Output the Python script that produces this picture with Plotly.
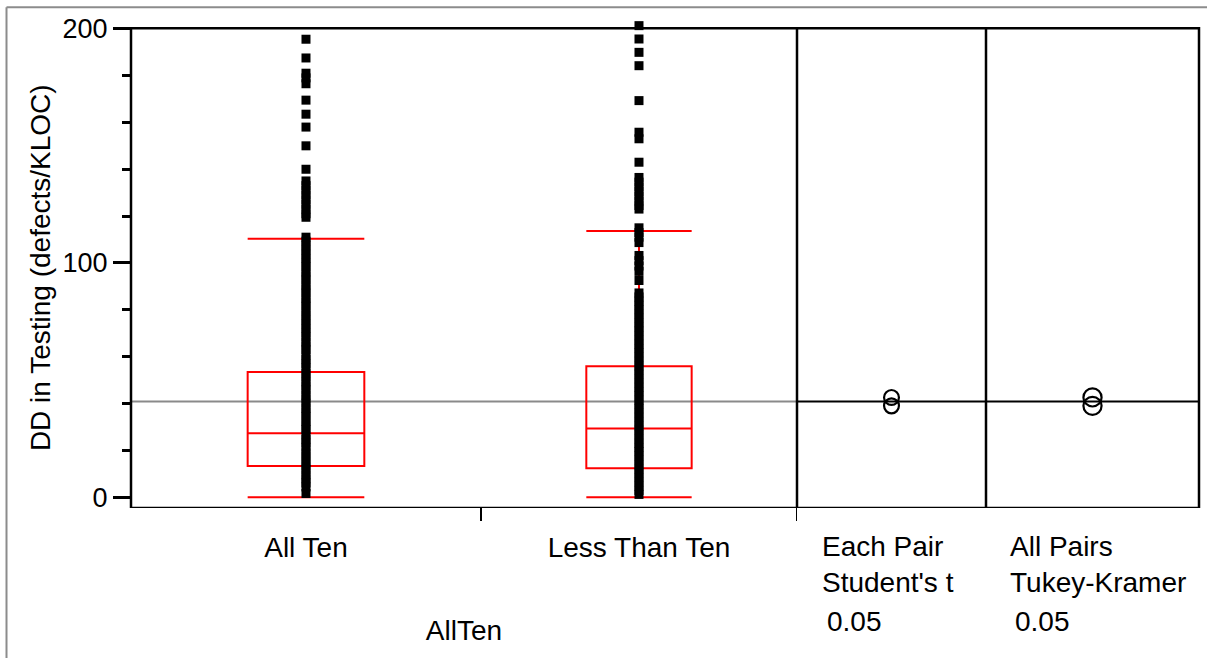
import plotly.graph_objects as go

# ---- data -------------------------------------------------------------
groups = ["All Ten", "Less Than Ten"]
group_share = [0.5255, 0.4745]          # share of observations per group (column widths)

whisker_low = [0.0, 0.0]
q1 = [13.3, 12.4]
median = [27.3, 29.3]
q3 = [53.4, 55.9]
whisker_high = [110.3, 113.6]

grand_mean = 40.9
group_means = [39.0, 42.6]
circle_radius_student = [3.6, 3.6]
circle_radius_tukey = [4.3, 4.3]

dd_all_ten = [
    1.6, 4.4, 6.1, 7.9, 9.6, 11.8, 13.5, 15.2, 17.4, 19.0, 21.3, 23.1, 24.8,
    26.7, 28.9, 30.6, 32.4, 34.5, 36.2, 38.0, 40.1, 41.9, 43.6, 45.8, 47.5,
    49.3, 51.4, 53.0, 55.2, 57.1, 58.8, 60.7, 62.9, 64.5, 66.3, 68.4, 70.2,
    72.0, 73.9, 75.7, 77.6, 79.4, 81.5, 83.2, 85.0, 87.1, 88.8, 90.6, 92.7,
    94.4, 96.2, 98.3, 100.0, 101.9, 103.7, 105.6, 107.4, 109.3, 111.0,
    119.5, 121.0, 123.0, 125.0, 127.0, 129.0, 131.0, 133.0, 135.0,
    140.0, 150.0, 158.0, 163.5, 169.5, 176.5, 179.0, 181.0, 187.5, 195.5,
]
dd_less_than_ten = [
    1.2, 2.9, 4.7, 6.6, 8.4, 10.3, 12.1, 13.9, 15.8, 17.6, 19.5, 21.2, 23.0,
    24.9, 26.7, 28.6, 30.4, 32.2, 34.1, 35.9, 37.8, 39.6, 41.4, 43.3, 45.1,
    46.9, 48.8, 50.6, 52.5, 54.3, 56.1, 58.0, 59.8, 61.7, 63.5, 65.3, 67.2,
    69.0, 70.9, 72.7, 74.5, 76.4, 78.2, 80.1, 81.9, 83.7, 85.5, 87.2,
    92.5, 96.4, 98.7, 101.0, 103.2, 108.7, 111.0, 113.0, 115.0,
    123.0, 124.5, 126.5, 128.5, 130.5, 132.5, 134.5, 136.5,
    143.0, 153.0, 155.8, 169.3, 184.2, 189.9, 195.6, 201.3,
]
group_values = [dd_all_ten, dd_less_than_ten]

# ---- geometry ---------------------------------------------------------
W, H = 1207, 658
ML, MR, MB = 131, 8, 150
plot_w = W - ML - MR
frame_y = [-4.6, 200.2]                 # visible frame of the value axis
y_range = [-4.6, 202.0]                 # a little headroom so edge points stay drawn
px_per_unit = 2.344
plot_h = (y_range[1] - y_range[0]) * px_per_unit
MT = H - MB - plot_h

main_end = 666 / plot_w
student_end = 855 / plot_w

FONT = "Liberation Sans, Arial, sans-serif"
FS = 28

# column centres and boundaries from group shares
bounds = [0.0]
for s in group_share:
    bounds.append(bounds[-1] + s)
centres = [(bounds[i] + bounds[i + 1]) / 2 for i in range(len(groups))]

fig = go.Figure()

# quantile boxes with whisker caps
for i in range(len(groups)):
    fig.add_trace(go.Box(
        x=[centres[i]], q1=[q1[i]], median=[median[i]], q3=[q3[i]],
        lowerfence=[whisker_low[i]], upperfence=[whisker_high[i]],
        width=group_share[i] / 3, whiskerwidth=1,
        line=dict(color="#ff0000", width=2), fillcolor="rgba(0,0,0,0)",
        boxpoints=False, xaxis="x", yaxis="y", showlegend=False,
    ))

# raw observations
for i in range(len(groups)):
    fig.add_trace(go.Scatter(
        x=[centres[i]] * len(group_values[i]), y=group_values[i],
        mode="markers", cliponaxis=False,
        marker=dict(symbol="square", size=9, color="black"),
        xaxis="x", yaxis="y", showlegend=False,
    ))

# comparison circles
for axis, radii in (("x2", circle_radius_student), ("x3", circle_radius_tukey)):
    for m, r in zip(group_means, radii):
        fig.add_trace(go.Scatter(
            x=[0.5], y=[m], mode="markers", xaxis=axis, yaxis="y",
            marker=dict(symbol="circle-open", size=2 * r * px_per_unit - 2,
                        color="black", line=dict(width=2.2, color="black")),
            showlegend=False,
        ))

shapes = []
# grand mean reference lines
shapes.append(dict(type="line", xref="x", yref="y", x0=0, x1=1,
                   y0=grand_mean, y1=grand_mean, layer="below",
                   line=dict(color="#8a8a8a", width=2)))
for ax in ("x2", "x3"):
    shapes.append(dict(type="line", xref=f"{ax} domain", yref="y", x0=0, x1=1,
                       y0=grand_mean, y1=grand_mean,
                       line=dict(color="black", width=2)))
# frame and panel separators
shapes.append(dict(type="rect", xref="paper", yref="y", x0=0, x1=1,
                   y0=frame_y[0], y1=frame_y[1],
                   line=dict(color="black", width=2.5)))
for xd in (main_end, student_end):
    shapes.append(dict(type="line", xref="paper", yref="y", x0=xd, x1=xd,
                       y0=frame_y[0], y1=frame_y[1],
                       line=dict(color="black", width=2.5)))
# group boundary ticks under the axis
for b in bounds[1:]:
    shapes.append(dict(type="line", xref="x", yref="paper", x0=b, x1=b,
                       y0=0, y1=-13 / plot_h, line=dict(color="black", width=2)))
# outer gray border (left and top)
gx = (6.5 - ML) / plot_w
gy = 1 + (MT - 7) / plot_h
shapes.append(dict(type="line", xref="paper", yref="paper", x0=gx, x1=gx,
                   y0=-MB / plot_h, y1=gy, line=dict(color="#8c8c8c", width=2)))
shapes.append(dict(type="line", xref="paper", yref="paper", x0=gx, x1=(W - ML) / plot_w,
                   y0=gy, y1=gy, line=dict(color="#8c8c8c", width=2)))

annotations = [
    dict(text="DD in Testing (defects/KLOC)", xref="paper", yref="y",
         x=0, y=(frame_y[0] + frame_y[1]) / 2, xshift=-(ML - 40), xanchor="center",
         yanchor="middle", textangle=-90, showarrow=False,
         font=dict(family=FONT, size=FS, color="black")),
]
panel_text = [("x2", ["Each Pair", "Student's t", "0.05"], 23),
              ("x3", ["All Pairs", "Tukey-Kramer", "0.05"], 22)]
for ax, lines, dx in panel_text:
    for k, (t, yc) in enumerate(zip(lines, (546, 582, 621))):
        annotations.append(dict(
            text=t, xref=f"{ax} domain", yref="paper", x=0, y=0,
            xanchor="left", yanchor="middle", xshift=dx + (5 if k == 2 else 0),
            yshift=-(yc - (H - MB)), showarrow=False,
            font=dict(family=FONT, size=FS, color="black")))

fig.update_layout(
    width=W, height=H, autosize=False,
    margin=dict(l=ML, r=MR, t=MT, b=MB, pad=0),
    paper_bgcolor="white", plot_bgcolor="white",
    font=dict(family=FONT, size=FS, color="black"),
    boxmode="overlay",
    xaxis=dict(domain=[0, main_end], range=[0, 1], anchor="y",
               tickmode="array", tickvals=centres, ticktext=groups,
               ticks="", showgrid=False, zeroline=False, showline=False,
               ticklabelstandoff=20,
               title=dict(text="AllTen", standoff=58,
                          font=dict(family=FONT, size=FS))),
    xaxis2=dict(domain=[main_end, student_end], range=[0, 1], anchor="y",
                showticklabels=False, ticks="", showgrid=False, zeroline=False),
    xaxis3=dict(domain=[student_end, 1], range=[0, 1], anchor="y",
                showticklabels=False, ticks="", showgrid=False, zeroline=False),
    yaxis=dict(range=y_range, anchor="x", tickmode="linear", tick0=0, dtick=100,
               ticks="outside", ticklen=17, tickwidth=2.5, tickcolor="black",
               tickfont=dict(family=FONT, size=27),
               minor=dict(dtick=20, tick0=0, ticks="outside", ticklen=8,
                          tickwidth=2.5, tickcolor="black", showgrid=False),
               showgrid=False, zeroline=False, showline=False),
    shapes=shapes, annotations=annotations,
)

fig.write_html("out.html")
